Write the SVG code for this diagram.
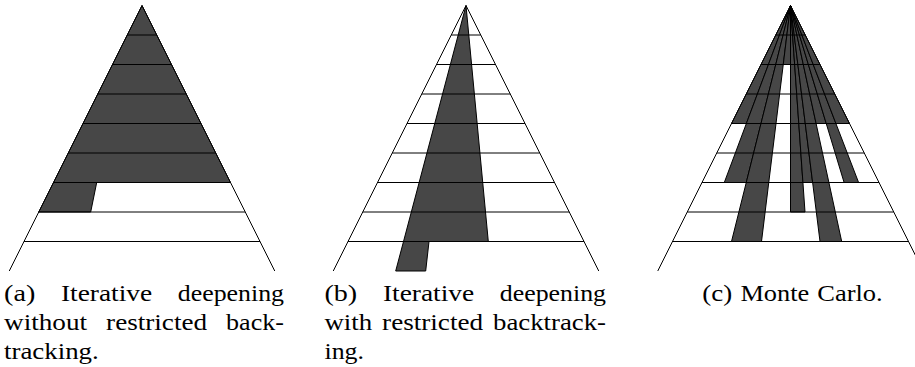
<svg xmlns="http://www.w3.org/2000/svg" width="915" height="367" viewBox="0 0 915 367">
<style>
.fill{fill:#474747;stroke:#000;stroke-width:1;stroke-linejoin:round}
.ln{stroke:#000;stroke-width:1;fill:none}
.t{font-family:"Liberation Serif","Times New Roman",serif;font-size:24px;fill:#000}
</style>
<rect width="915" height="367" fill="#fff"/>

<g id="panel-a">
  <polygon class="fill" points="142,5.5 230.5,182.5 96.7,182.5 90.7,212 38.75,212"/>
  <path class="ln" d="M127.25 35H156.75M112.5 64.5H171.5M97.75 94H186.25M83 123.5H201M68.25 153H215.75M53.5 182.5H230.5M38.75 212H245.25M24 241.5H260"/>
  <polyline class="ln" points="9.25,271 142,5.5 274.75,271"/>
</g>

<g id="panel-b">
  <polygon class="fill" points="466,5.5 488.3,241.5 429,241.5 425.7,271 395.7,271"/>
  <path class="ln" d="M451.25 35H480.75M436.5 64.5H495.5M421.75 94H510.25M407 123.5H525M392.25 153H539.75M377.5 182.5H554.5M362.75 212H569.25M348 241.5H584"/>
  <polyline class="ln" points="333.25,271 466,5.5 598.75,271"/>
</g>

<g id="panel-c">
  <g id="playouts">
    <polygon class="fill" points="790.5,5.5 731.5,123.5 746.37,123.5"/>
    <polygon class="fill" points="790.5,5.5 724.3,182.5 746.25,182.5"/>
    <polygon class="fill" points="790.5,5.5 731.5,241.5 761.5,241.5"/>
    <polygon class="fill" points="790.5,5.5 783.25,64.5 790.5,64.5"/>
    <polygon class="fill" points="790.5,5.5 790.5,212 805,212"/>
    <polygon class="fill" points="790.5,5.5 802.93,182.5 812.63,182.5"/>
    <polygon class="fill" points="790.5,5.5 820,241.5 841.7,241.5"/>
    <polygon class="fill" points="790.5,5.5 816.1,123.5 826.25,123.5"/>
    <polygon class="fill" points="790.5,5.5 844.1,182.5 858.6,182.5"/>
    <polygon class="fill" points="790.5,5.5 835.93,123.5 849.5,123.5"/>
  </g>
  <path class="ln" d="M775.75 35H805.25M761 64.5H820M746.25 94H834.75M731.5 123.5H849.5M716.75 153H864.25M702 182.5H879M687.25 212H893.75M672.5 241.5H908.5"/>
  <polyline class="ln" points="657.75,271 790.5,5.5 923.25,271"/>
</g>

<g id="captions">
  <text class="t" x="4" y="300.5" textLength="31.3" lengthAdjust="spacingAndGlyphs">(a)</text>
  <text class="t" x="60.9" y="300.5" textLength="91.3" lengthAdjust="spacingAndGlyphs">Iterative</text>
  <text class="t" x="177.8" y="300.5" textLength="106.2" lengthAdjust="spacingAndGlyphs">deepening</text>
  <text class="t" x="4" y="329.9" textLength="83.1" lengthAdjust="spacingAndGlyphs">without</text>
  <text class="t" x="106.1" y="329.9" textLength="101" lengthAdjust="spacingAndGlyphs">restricted</text>
  <text class="t" x="226.1" y="329.9" textLength="57.8" lengthAdjust="spacingAndGlyphs">back-</text>
  <text class="t" x="4" y="359.3" textLength="94.7" lengthAdjust="spacingAndGlyphs">tracking.</text>

  <text class="t" x="324.5" y="300.5" textLength="32.7" lengthAdjust="spacingAndGlyphs">(b)</text>
  <text class="t" x="382.9" y="300.5" textLength="91.3" lengthAdjust="spacingAndGlyphs">Iterative</text>
  <text class="t" x="499.8" y="300.5" textLength="106.2" lengthAdjust="spacingAndGlyphs">deepening</text>
  <text class="t" x="324.5" y="329.9" textLength="47.7" lengthAdjust="spacingAndGlyphs">with</text>
  <text class="t" x="382.1" y="329.9" textLength="101" lengthAdjust="spacingAndGlyphs">restricted</text>
  <text class="t" x="493" y="329.9" textLength="113" lengthAdjust="spacingAndGlyphs">backtrack-</text>
  <text class="t" x="324.5" y="359.3" textLength="39.5" lengthAdjust="spacingAndGlyphs">ing.</text>

  <text class="t" x="702.3" y="300.5" textLength="29.9" lengthAdjust="spacingAndGlyphs">(c)</text>
  <text class="t" x="740.4" y="300.5" textLength="68.8" lengthAdjust="spacingAndGlyphs">Monte</text>
  <text class="t" x="817.3" y="300.5" textLength="65.4" lengthAdjust="spacingAndGlyphs">Carlo.</text>
</g>
</svg>
